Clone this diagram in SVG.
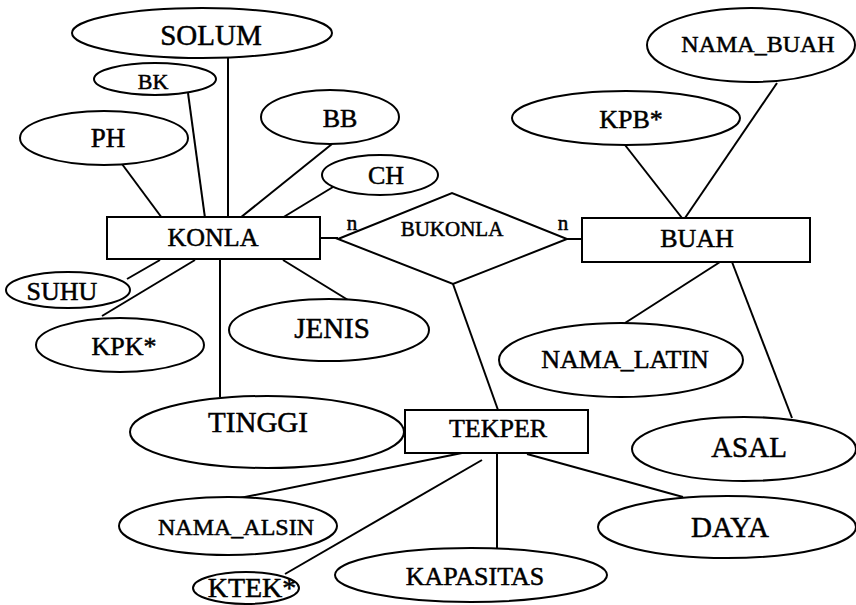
<svg xmlns="http://www.w3.org/2000/svg" width="856" height="605" viewBox="0 0 856 605">
<style>
  .sh { fill: #fff; stroke: #000; stroke-width: 2; }
  .ln { stroke: #000; stroke-width: 2; fill: none; }
  text { font-family: "Liberation Serif", "Times New Roman", serif; fill: #000; stroke: #000; stroke-width: 0.5; text-anchor: middle; }
</style>
<rect width="856" height="605" fill="#fff"/>
<g id="connectors" class="ln">
  <line x1="122" y1="164" x2="162" y2="218"/>
  <line x1="188" y1="93" x2="205" y2="218"/>
  <line x1="228" y1="58" x2="228" y2="218"/>
  <line x1="332" y1="144" x2="240" y2="218"/>
  <line x1="333" y1="187" x2="282" y2="218"/>
  <line x1="320" y1="238" x2="338" y2="238"/>
  <line x1="160" y1="260" x2="127" y2="279"/>
  <line x1="195" y1="260" x2="102" y2="316"/>
  <line x1="220" y1="260" x2="220" y2="397"/>
  <line x1="283" y1="260" x2="348" y2="300"/>
  <line x1="567" y1="239" x2="582" y2="239"/>
  <line x1="625" y1="145" x2="682" y2="218"/>
  <line x1="777" y1="83" x2="685" y2="218"/>
  <line x1="720" y1="262" x2="625" y2="323"/>
  <line x1="732" y1="262" x2="792" y2="418"/>
  <line x1="453" y1="284" x2="498" y2="410"/>
  <line x1="462" y1="453" x2="240" y2="498"/>
  <line x1="482" y1="460" x2="285" y2="574"/>
  <line x1="497" y1="453" x2="497" y2="548"/>
  <line x1="527" y1="454" x2="683" y2="497"/>
</g>
<g id="SOLUM"><ellipse class="sh" cx="202" cy="33" rx="130" ry="25"/><text x="211" y="45" font-size="29">SOLUM</text></g>
<g id="BK"><ellipse class="sh" cx="155" cy="79" rx="61" ry="16"/><text x="153" y="89" font-size="22">BK</text></g>
<g id="PH"><ellipse class="sh" cx="104" cy="138" rx="84" ry="27"/><text x="108" y="147" font-size="27">PH</text></g>
<g id="BB"><ellipse class="sh" cx="330" cy="117" rx="69" ry="27"/><text x="340" y="127" font-size="26">BB</text></g>
<g id="CH"><ellipse class="sh" cx="380" cy="175" rx="58" ry="20"/><text x="386" y="184" font-size="26">CH</text></g>
<g id="KONLA"><rect class="sh" x="107" y="217" width="213" height="42"/><text x="213" y="246" font-size="26">KONLA</text></g>
<g id="SUHU"><ellipse class="sh" cx="68" cy="290" rx="62" ry="18"/><text x="62" y="300" font-size="26">SUHU</text></g>
<g id="KPK"><ellipse class="sh" cx="120" cy="345" rx="84" ry="27"/><text x="124" y="355" font-size="26">KPK*</text></g>
<g id="JENIS"><ellipse class="sh" cx="329" cy="330" rx="100" ry="31"/><text x="332" y="338" font-size="29">JENIS</text></g>
<g id="TINGGI"><ellipse class="sh" cx="267" cy="432" rx="137" ry="36"/><text x="258" y="432" font-size="29">TINGGI</text></g>
<g id="BUKONLA"><polygon class="sh" points="338,239 452,193 567,239 453,284"/><text x="452" y="236" font-size="21">BUKONLA</text></g>
<g id="labels"><text x="352" y="230" font-size="21">n</text><text x="563" y="230" font-size="21">n</text></g>
<g id="BUAH"><rect class="sh" x="582" y="218" width="228" height="44"/><text x="697" y="247" font-size="26">BUAH</text></g>
<g id="KPB"><ellipse class="sh" cx="626" cy="118" rx="114" ry="27"/><text x="631" y="128" font-size="26">KPB*</text></g>
<g id="NAMA_BUAH"><ellipse class="sh" cx="751" cy="45" rx="104" ry="37"/><text x="758" y="52" font-size="24">NAMA_BUAH</text></g>
<g id="NAMA_LATIN"><ellipse class="sh" cx="621" cy="360" rx="122" ry="37"/><text x="625" y="368" font-size="26">NAMA_LATIN</text></g>
<g id="ASAL"><ellipse class="sh" cx="744" cy="449" rx="112" ry="32"/><text x="749" y="457" font-size="29">ASAL</text></g>
<g id="TEKPER"><rect class="sh" x="405" y="410" width="183" height="43"/><text x="498" y="437" font-size="26">TEKPER</text></g>
<g id="NAMA_ALSIN"><ellipse class="sh" cx="228" cy="526" rx="109" ry="29"/><text x="236" y="535" font-size="24">NAMA_ALSIN</text></g>
<g id="KTEK"><ellipse class="sh" cx="246" cy="588" rx="53" ry="16"/><text x="252" y="597" font-size="28">KTEK*</text></g>
<g id="KAPASITAS"><ellipse class="sh" cx="471" cy="575" rx="136" ry="27"/><text x="475" y="585" font-size="26">KAPASITAS</text></g>
<g id="DAYA"><ellipse class="sh" cx="727" cy="527" rx="129" ry="31"/><text x="730" y="537" font-size="29">DAYA</text></g>
</svg>
